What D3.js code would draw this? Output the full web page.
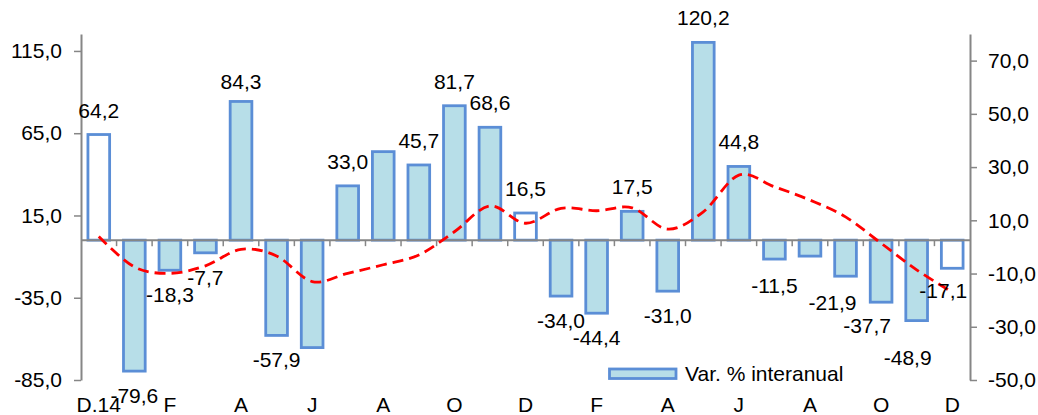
<!DOCTYPE html>
<html>
<head>
<meta charset="utf-8">
<script src="https://cdn.jsdelivr.net/npm/d3@7"></script>
<style>
  html, body { margin: 0; padding: 0; background: #fff; }
  svg { display: block; font-family: "Liberation Sans", Arial, sans-serif; }
</style>
</head>
<body>
<svg id="chart" width="1038" height="415"></svg>
<script>
// ---- data ----
const categories = ["D.14","E","F","M","A","M","J","J","A","S","O","N","D","E","F","M","A","M","J","J","A","S","O","N","D"];
const barValues  = [64.2,-79.6,-18.3,-7.7,84.3,-57.9,-65.3,33.0,53.8,45.7,81.7,68.6,16.5,-34.0,-44.4,17.5,-31.0,120.2,44.8,-11.5,-9.7,-21.9,-37.7,-48.9,-17.1];
const lineValues = [3.9,-7.5,-9.9,-7.1,-0.9,-3.4,-13.0,-9.9,-6.7,-3.0,5.7,15.4,8.9,14.5,13.6,14.7,6.7,13.2,27.0,22.6,17.6,11.3,1.4,-8.6,-17.0];
const leftTicks  = [-85,-35,15,65,115];
const rightTicks = [-50,-30,-10,10,30,50,70];
const hiddenLabels = [6,8,20];
const whiteBars = [0,12,24];
const legendLabel = "Var. % interanual";

// ---- layout ----
const X0 = 81, X1 = 970, Y0 = 34, Y1 = 380;
const FONT = 21;
const barStroke = "#5B8ED6", barFill = "#B7DEE8", axisCol = "#868686";

const svg = d3.select("#chart");
const locale = d3.formatLocale({decimal: ",", thousands: ".", grouping: [3], currency: ["", ""], minus: "-"});
const fmt = locale.format(".1f");

const x = d3.scaleBand().domain(d3.range(categories.length)).range([X0, X1])
  .paddingInner(0.39).paddingOuter(0.195);
const yL = d3.scaleLinear().domain([-85, 125.3]).range([Y1, Y0]);
const yR = d3.scaleLinear().domain([-50, 80]).range([Y1, Y0]);

// bars
svg.append("g").selectAll("rect").data(barValues).join("rect")
  .attr("x", (d, i) => x(i))
  .attr("width", x.bandwidth())
  .attr("y", d => yL(Math.max(0, d)))
  .attr("height", d => Math.abs(yL(d) - yL(0)))
  .attr("fill", (d, i) => whiteBars.includes(i) ? "#fff" : barFill)
  .attr("stroke", barStroke)
  .attr("stroke-width", 2.8);

// zero category axis
const step = x.step();
const gx = svg.append("g").attr("transform", `translate(0,${yL(0)})`);
gx.append("line").attr("x1", X0).attr("x2", X1).attr("stroke", axisCol).attr("stroke-width", 2);
gx.selectAll("line.tk").data(d3.range(1, categories.length)).join("line")
  .attr("class", "tk")
  .attr("x1", i => X0 + i * step).attr("x2", i => X0 + i * step)
  .attr("y1", 0).attr("y2", 6)
  .attr("stroke", axisCol).attr("stroke-width", 1.5);

// category labels (every other)
const xAxis = d3.axisBottom(x)
  .tickValues(d3.range(0, categories.length, 2))
  .tickFormat(i => categories[i])
  .tickSize(0).tickPadding(0);
const gxl = svg.append("g").attr("transform", `translate(0,${412})`).call(xAxis);
gxl.select(".domain").remove();
gxl.selectAll("text").attr("dy", 0).attr("y", 0)
  .attr("font-size", FONT).attr("font-family", "Liberation Sans, Arial, sans-serif").attr("fill", "#000");

// left axis
const gl = svg.append("g").attr("transform", `translate(${X0},0)`)
  .call(d3.axisLeft(yL).tickValues(leftTicks).tickFormat(fmt).tickSize(7).tickPadding(12).tickSizeOuter(0));
gl.select(".domain").attr("stroke", axisCol).attr("stroke-width", 2);
gl.selectAll(".tick line").attr("stroke", axisCol).attr("stroke-width", 1.5);
gl.selectAll("text").attr("font-size", FONT).attr("font-family", "Liberation Sans, Arial, sans-serif").attr("fill", "#000");

// right axis
const gr = svg.append("g").attr("transform", `translate(${X1},0)`)
  .call(d3.axisRight(yR).tickValues(rightTicks).tickFormat(fmt).tickSize(7).tickPadding(11).tickSizeOuter(0));
gr.select(".domain").attr("stroke", axisCol).attr("stroke-width", 2);
gr.selectAll(".tick line").attr("stroke", axisCol).attr("stroke-width", 1.5);
gr.selectAll("text").attr("font-size", FONT).attr("font-family", "Liberation Sans, Arial, sans-serif").attr("fill", "#000");

// dashed smoothed line
const line = d3.line()
  .x((d, i) => x(i) + x.bandwidth() / 2)
  .y(d => yR(d))
  .curve(d3.curveCardinal.tension(0));
svg.append("path").datum(lineValues)
  .attr("d", line)
  .attr("fill", "none")
  .attr("stroke", "#FF0000")
  .attr("stroke-width", 2.8)
  .attr("stroke-dasharray", "11,6");

// data labels
const nudge = {0: [0, 0], 4: [0, 4.5], 19: [0, 2], 21: [-13, 2], 22: [-14, -1], 23: [-9, 12], 24: [-9, -2]};
svg.append("g").selectAll("text")
  .data(barValues.map((v, i) => ({v, i})).filter(d => !hiddenLabels.includes(d.i)))
  .join("text")
  .attr("x", d => x(d.i) + x.bandwidth() / 2 + (nudge[d.i] ? nudge[d.i][0] : 0))
  .attr("y", d => (d.v >= 0 ? yL(d.v) - 17 : yL(d.v) + 32) + (nudge[d.i] ? nudge[d.i][1] : 0))
  .attr("text-anchor", "middle")
  .attr("font-size", FONT)
  .attr("fill", "#000")
  .text(d => fmt(d.v));

// legend
const lg = svg.append("g");
lg.append("rect").attr("x", 609.5).attr("y", 369).attr("width", 66.5).attr("height", 9.5)
  .attr("fill", barFill).attr("stroke", barStroke).attr("stroke-width", 2.8);
lg.append("text").attr("x", 685).attr("y", 381).attr("font-size", FONT).attr("fill", "#000").text(legendLabel);
</script>
</body>
</html>
